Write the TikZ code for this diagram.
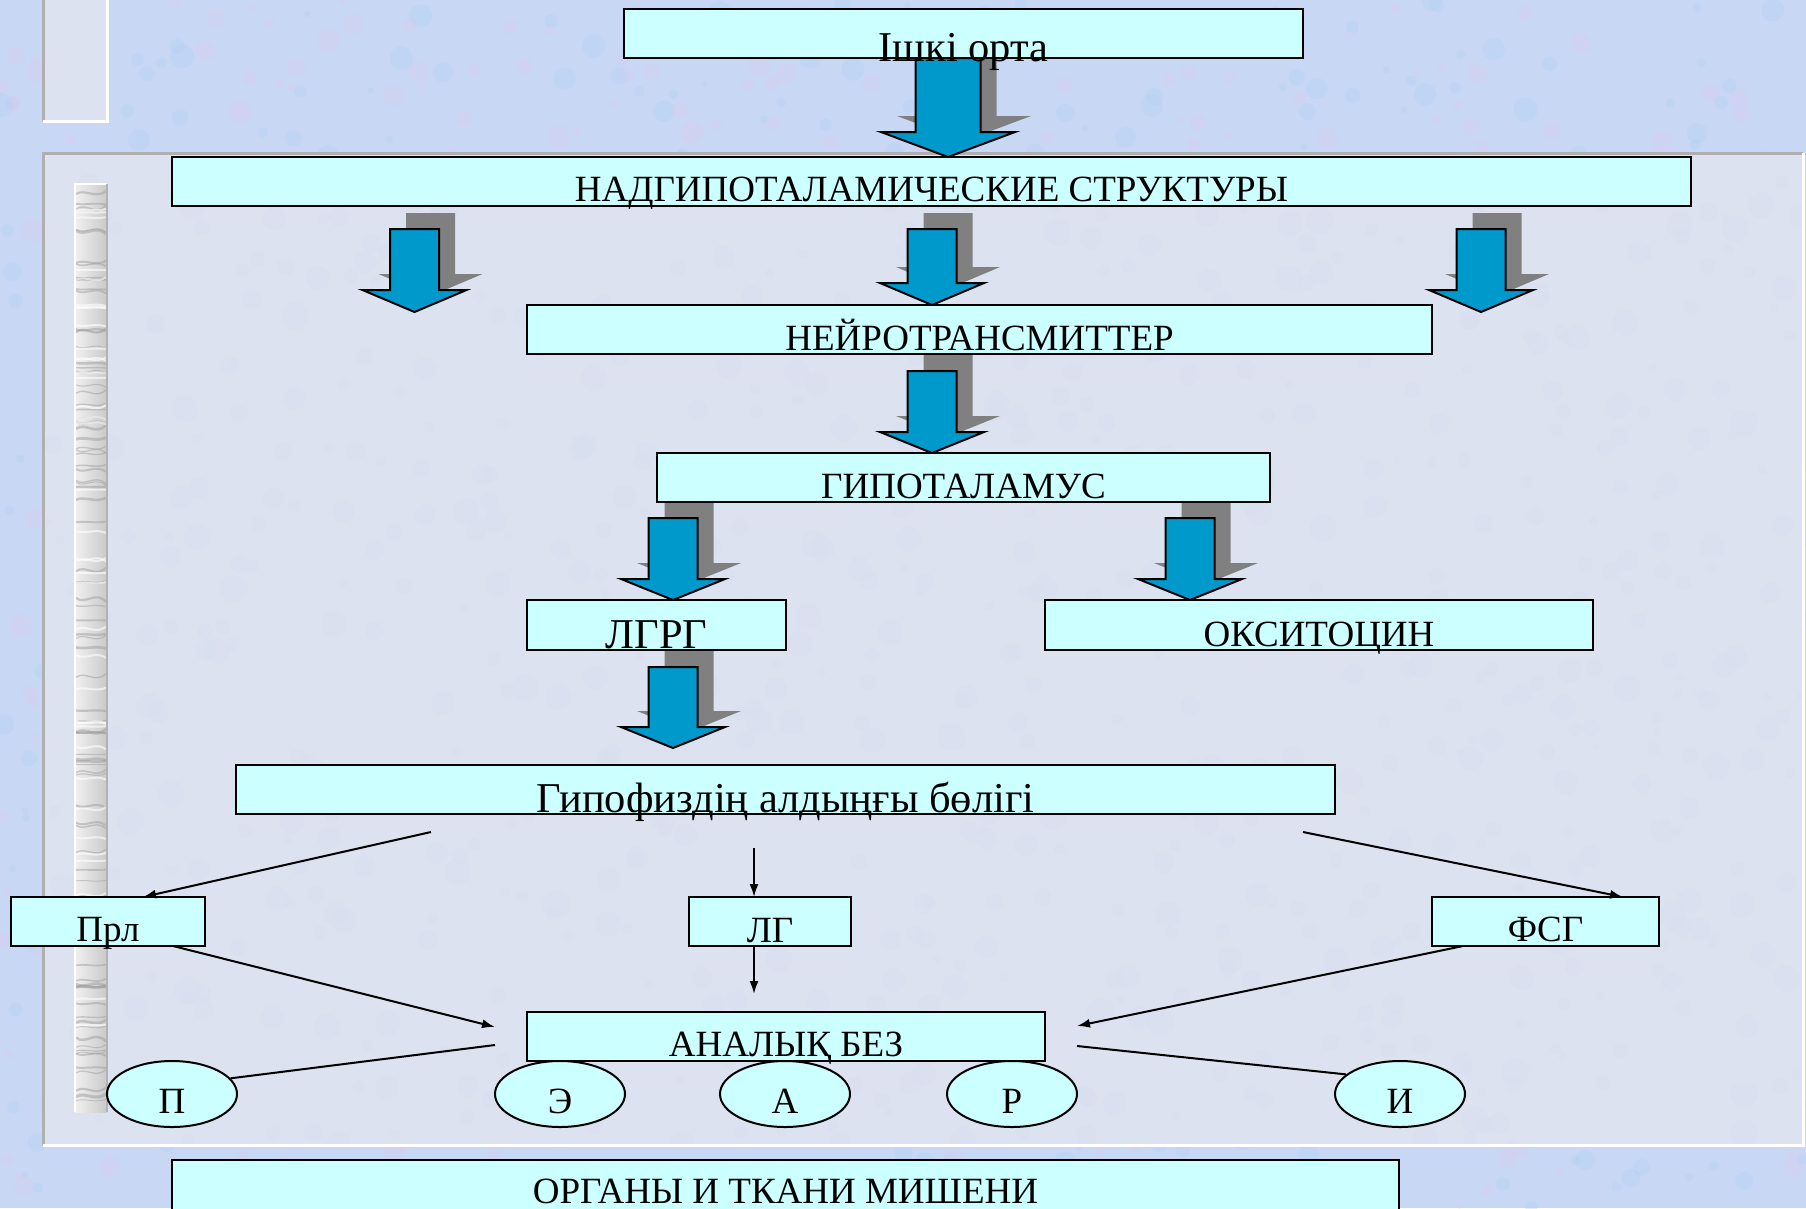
\documentclass[tikz,border=0pt]{standalone}
\usepackage{fontspec}
\setmainfont{Liberation Serif}
\usetikzlibrary{shapes.geometric, arrows.meta, calc}

\definecolor{pagebg}{HTML}{C8D7F3}
\definecolor{blotpink}{HTML}{D9CDF0}
\definecolor{blotblue}{HTML}{B4D0F4}
\definecolor{panelbg}{HTML}{DCE2F0}
\definecolor{panelblot}{HTML}{D4DBEE}
\definecolor{boxcyan}{HTML}{CCFFFF}
\definecolor{arrowblue}{HTML}{0099CC}
\definecolor{shadowgray}{HTML}{808080}
\definecolor{bevelgray}{HTML}{AFAFAF}

\tikzset{
  boxst/.style={draw=black, fill=boxcyan, line width=2.5pt, rectangle, inner sep=0pt, outer sep=0pt},
  lbl/.style={inner sep=0pt, font=\fontsize{37}{40}\selectfont, text=black},
  biglbl/.style={lbl, font=\fontsize{42.5}{46}\selectfont},
  oval/.style={draw=black, fill=boxcyan, ellipse, line width=2pt, inner sep=0pt,
               minimum width=130pt, minimum height=66pt},
  conn/.style={line width=2pt, -{Latex[length=13pt,width=9pt]}},
  plainconn/.style={line width=2pt},
  bluearrow/.style={fill=arrowblue, draw=black, line width=2pt, line join=miter},
  arrowshadow/.style={fill=shadowgray},
}

% a labelled box: label style, name, x1, y1, x2, y2, text baseline, text
\newcommand\labelbox[8][lbl]{%
  \node[boxst, minimum width={(#5-#3)*1pt}, minimum height={(#6-#4)*1pt}]
    (#2) at ({(#3+#5)/2},{(#4+#6)/2}) {};
  \node[#1, anchor=base] (#2-text) at ({(#3+#5)/2},#7) {#8};
}

% a downward block arrow with its grey shadow:
% centre x, top y, tip y, shaft half width, head half width, head length
\newcommand\blockarrow[6]{%
  \fill[arrowshadow, shift={(16,-16)}]
    ({#1-#4},#2) -- ({#1+#4},#2) -- ({#1+#4},{#3-#6}) -- ({#1+#5},{#3-#6})
    -- (#1,#3) -- ({#1-#5},{#3-#6}) -- ({#1-#4},{#3-#6}) -- cycle;
  \path[bluearrow]
    ({#1-#4},#2) -- ({#1+#4},#2) -- ({#1+#4},{#3-#6}) -- ({#1+#5},{#3-#6})
    -- (#1,#3) -- ({#1-#5},{#3-#6}) -- ({#1-#4},{#3-#6}) -- cycle;
}

\begin{document}
\begin{tikzpicture}[x=1pt,y=-1pt]
\clip (0,0) rectangle (1806,1208);

% mottled page background
\fill[pagebg] (0,0) rectangle (1806,1208);
\pgfmathsetseed{7}
\foreach \i in {1,...,1400}{
  \pgfmathsetmacro\bx{rnd*1806}
  \pgfmathsetmacro\by{rnd*1208}
  \pgfmathsetmacro\br{3+rnd*9}
  \pgfmathsetmacro\bk{rnd}
  \ifdim\bk pt<0.5pt \def\bc{blotpink}\else\def\bc{blotblue}\fi
  \fill[\bc, opacity=0.4] (\bx,\by) circle[radius=\br];
}

% small panel at the top left
\fill[panelbg] (43,-5) rectangle (107,121);
\draw[bevelgray, line width=3pt] (43,-5) -- (43,121);
\draw[white, line width=3pt] (43,121) -- (107,121) -- (107,-5);

% main panel, faintly mottled
\fill[panelbg] (43,153) rectangle (1803,1145);
\begin{scope}
  \clip (43,153) rectangle (1803,1145);
  \foreach \i in {1,...,700}{
    \pgfmathsetmacro\bx{43+rnd*1760}
    \pgfmathsetmacro\by{153+rnd*992}
    \pgfmathsetmacro\br{4+rnd*10}
    \fill[panelblot, opacity=0.18] (\bx,\by) circle[radius=\br];
  }
\end{scope}
\draw[bevelgray, line width=3pt] (43,1145) -- (43,153) -- (1803,153);
\draw[white, line width=3pt] (43,1145) -- (1803,1145) -- (1803,153);

% marble strip
\shade[left color=gray!12, right color=gray!42] (75,184) rectangle (107,1112);
\begin{scope}
  \clip (75,184) rectangle (107,1112);
  \foreach \i in {1,...,90}{
    \pgfmathsetmacro\my{186+rnd*925}
    \pgfmathsetmacro\md{rnd*16-8}
    \pgfmathsetmacro\mw{0.8+rnd*2.2}
    \draw[gray!75, line width=\mw pt, opacity=0.5]
      (76,\my) .. controls (86,{\my+\md}) and (95,{\my-\md}) .. (106,{\my+\md/2});
  }
  \foreach \i in {1,...,40}{
    \pgfmathsetmacro\my{186+rnd*925}
    \pgfmathsetmacro\md{rnd*12-6}
    \draw[white, line width=2pt, opacity=0.6]
      (76,\my) .. controls (86,{\my+\md}) and (95,{\my-\md}) .. (106,{\my+\md/2});
  }
\end{scope}
\draw[white, line width=2pt] (75,1112) -- (75,184) -- (107,184);
\draw[gray!60, line width=2pt] (107,184) -- (107,1112);

% block arrows (drawn before the boxes)
\blockarrow{948}{58}{157}{32.5}{67}{25}
\blockarrow{414.5}{229}{312}{24.5}{52}{22}
\blockarrow{932}{229}{305}{24.5}{52}{22}
\blockarrow{1481}{229}{312}{24.5}{52}{22}
\blockarrow{932}{371}{453}{24.5}{52}{21}
\blockarrow{673}{518}{600}{24.5}{52}{21}
\blockarrow{1190}{518}{600}{24.5}{52}{21}
\blockarrow{673}{667}{748}{24.5}{52}{21}

% boxes
\labelbox[biglbl]{ishki}{624}{9}{1303}{58}{61}{Ішкі орта}
\labelbox{nadg}{172}{157}{1691}{206}{201}{НАДГИПОТАЛАМИЧЕСКИЕ СТРУКТУРЫ}
\labelbox{neuro}{527}{305}{1432}{354}{350}{НЕЙРОТРАНСМИТТЕР}
\labelbox{hypo}{657}{453}{1270}{502}{498}{ГИПОТАЛАМУС}
\labelbox[biglbl]{lgrg}{527}{600}{786}{650}{648}{ЛГРГ}
\labelbox{oxy}{1045}{600}{1593}{650}{646}{ОКСИТОЦИН}
\labelbox[biglbl]{gipof}{236}{765}{1335}{814}{812}{Гипофиздің алдыңғы бөлігі}
\labelbox{prl}{11}{897}{205}{946}{941}{Прл}
\labelbox{lg}{689}{897}{851}{946}{942}{ЛГ}
\labelbox{fsg}{1432}{897}{1659}{946}{941}{ФСГ}
\labelbox{anal}{527}{1012}{1045}{1061}{1056}{АНАЛЫҚ БЕЗ}
\labelbox{organ}{172}{1160}{1399}{1250}{1203}{ОРГАНЫ И ТКАНИ МИШЕНИ}

% ellipses
\node[oval] (p) at (172,1094) {};
\node[oval] (e) at (560,1094) {};
\node[oval] (a) at (785,1094) {};
\node[oval] (r) at (1012,1094) {};
\node[oval] (i) at (1400,1094) {};
\node[lbl, anchor=base] (p-text) at (172,1113) {П};
\node[lbl, anchor=base] (e-text) at (560,1113) {Э};
\node[lbl, anchor=base] (a-text) at (785,1113) {А};
\node[lbl, anchor=base] (r-text) at (1012,1113) {Р};
\node[lbl, anchor=base] (i-text) at (1400,1113) {И};

% free ends of the thin connectors
\coordinate (g1) at (431,832);
\coordinate (g2) at (754,848);
\coordinate (g3) at (1303,832);
\coordinate (a1) at (495,1027);
\coordinate (a2) at (754,994);
\coordinate (a3) at (1077,1026);
\coordinate (a4) at (495,1045);
\coordinate (a5) at (1077,1046);

% thin connectors
\draw[conn] (g1) -- ([xshift=35pt]prl.north);
\draw[conn] (g2) -- (g2 |- lg.north);
\draw[conn] (g3) -- ([xshift=77.5pt]fsg.north);
\draw[conn] ([xshift=65pt]prl.south) -- (a1);
\draw[conn] (g2 |- lg.south) -- (a2);
\draw[conn] ([xshift=-82.5pt]fsg.south) -- (a3);
\draw[plainconn] (a4) -- (p.15);
\draw[plainconn] (a5) -- (i.160);
\end{tikzpicture}
\end{document}
